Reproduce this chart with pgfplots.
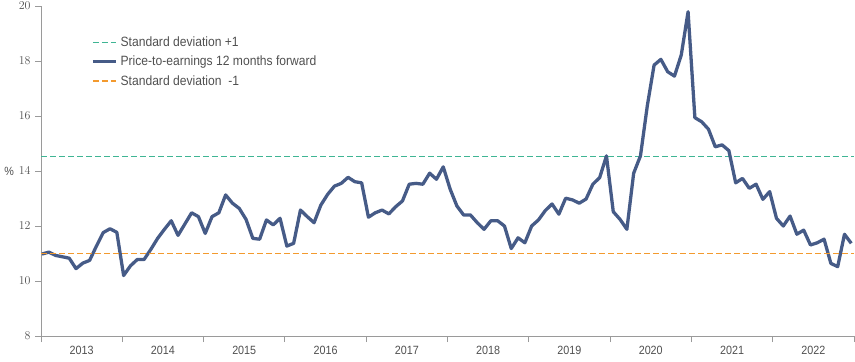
\documentclass[border=0pt]{standalone}
\usepackage{pgfplots}
\pgfplotsset{compat=1.18}
\usepackage{fontspec}
\setmainfont{Liberation Sans}[FakeStretch=0.9]
\definecolor{peblue}{HTML}{465B87}
\definecolor{sdteal}{HTML}{3FB594}
\definecolor{sdorange}{HTML}{F39A2E}
\definecolor{txtgray}{HTML}{505050}
\definecolor{axgray}{HTML}{9A9A9A}
\pgfplotstableread{
m v
0 10.98
1 11.05
2 10.93
3 10.88
4 10.83
5 10.45
6 10.65
7 10.75
8 11.27
9 11.76
10 11.90
11 11.77
12 10.20
13 10.55
14 10.78
15 10.78
16 11.15
17 11.55
18 11.88
19 12.19
20 11.66
21 12.07
22 12.48
23 12.34
24 11.73
25 12.34
26 12.48
27 13.13
28 12.83
29 12.64
30 12.24
31 11.55
32 11.52
33 12.22
34 12.04
35 12.28
36 11.27
37 11.37
38 12.58
39 12.34
40 12.12
41 12.76
42 13.15
43 13.45
44 13.55
45 13.77
46 13.61
47 13.57
48 12.32
49 12.48
50 12.58
51 12.44
52 12.70
53 12.91
54 13.52
55 13.55
56 13.52
57 13.92
58 13.70
59 14.15
60 13.35
61 12.73
62 12.40
63 12.40
64 12.12
65 11.88
66 12.19
67 12.19
68 12.00
69 11.18
70 11.57
71 11.39
72 12.00
73 12.22
74 12.56
75 12.80
76 12.43
77 13.01
78 12.95
79 12.83
80 12.98
81 13.52
82 13.76
83 14.55
84 12.52
85 12.24
86 11.88
87 13.92
88 14.55
89 16.36
90 17.85
91 18.06
92 17.61
93 17.45
94 18.22
95 19.79
96 15.94
97 15.79
98 15.52
99 14.88
100 14.95
101 14.74
102 13.57
103 13.73
104 13.37
105 13.52
106 12.97
107 13.25
108 12.28
109 12.00
110 12.36
111 11.70
112 11.85
113 11.31
114 11.39
115 11.52
116 10.64
117 10.52
118 11.70
119 11.37
}\pedata
\begin{document}
\begin{tikzpicture}
\begin{axis}[
  scale only axis,
  width=813bp, height=330bp,
  xmin=-0.15, xmax=119.4,
  ymin=8, ymax=20,
  ytick={8,10,...,20},
  xtick={-0.15,11.8,23.76,35.71,47.67,59.62,71.58,83.53,95.49,107.44,119.4},
  xticklabels={2013,2014,2015,2016,2017,2018,2019,2020,2021,2022},
  x tick label as interval,
  axis lines=left,
  axis line style={-, draw=axgray, line width=1pt},
  tick style={draw=axgray, line width=1pt},
  tick align=outside,
  major tick length=6bp,
  ticklabel style={text=txtgray, font=\fontsize{12}{14}\selectfont},
  xticklabel style={yshift=-1bp},
  yticklabel style={xshift=-1bp},
  ylabel={\%},
  ylabel style={rotate=-90, text=txtgray, font=\fontsize{12}{14}\selectfont, xshift=2bp},
  legend cell align=left,
  legend style={draw=none, fill=none, at={(0.058,0.919)}, anchor=north west,
    font=\fontsize{13.5}{15}\selectfont, text=txtgray, row sep=4bp,
    nodes={inner xsep=3bp}},
  legend image code/.code={\draw[#1] (0bp,0bp) -- (23bp,0bp);},
]
\addplot[sdteal, line width=1.1pt, dash pattern=on 6bp off 3bp] coordinates {(-0.15,14.52) (119.4,14.52)};
\addlegendentry{Standard deviation +1}
\addplot[peblue, line width=3.3pt, line join=round] table[x=m, y=v] {\pedata};
\addlegendentry{Price-to-earnings 12 months forward}
\addplot[sdorange, line width=1.1pt, dash pattern=on 6bp off 3bp] coordinates {(-0.15,11.0) (119.4,11.0)};
\addlegendentry{Standard deviation~ -1}
\coordinate (sw) at (rel axis cs:0,0);
\coordinate (ne) at (rel axis cs:1,1);
\end{axis}
\pgfresetboundingbox
\path ([shift={(-41bp,-26bp)}]sw) rectangle ([shift={(1bp,6bp)}]ne);
\end{tikzpicture}
\end{document}
